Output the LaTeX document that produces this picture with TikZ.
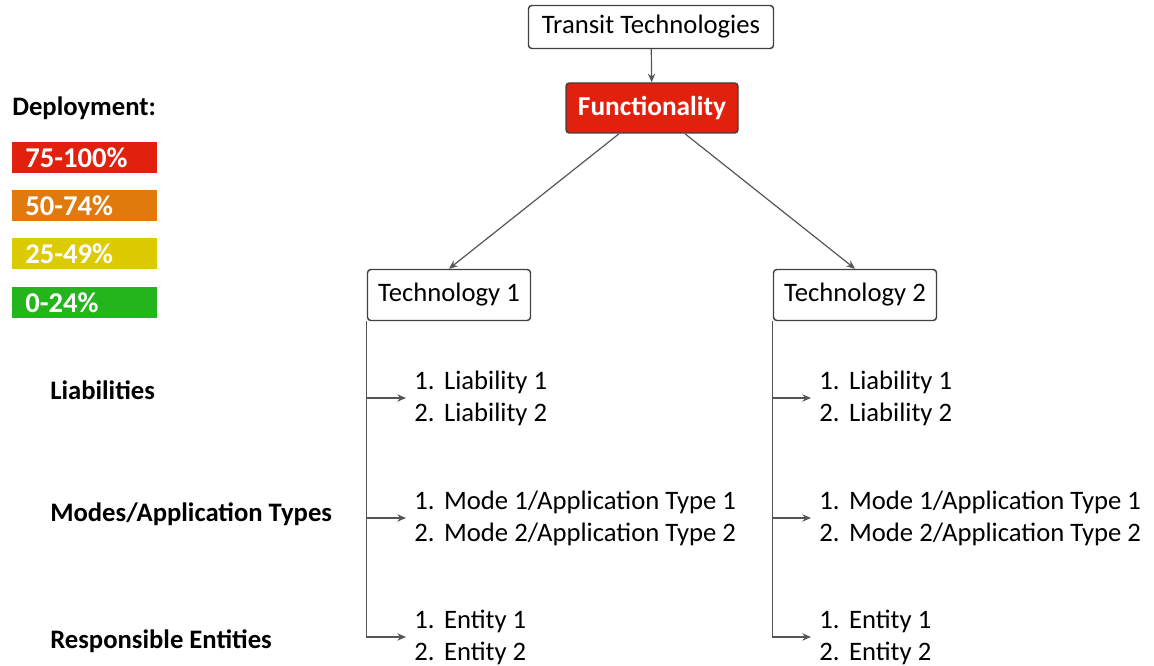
\documentclass[tikz,border=0pt]{standalone}
\usepackage{fontspec}
\setmainfont{Carlito}
\usetikzlibrary{arrows.meta}
\definecolor{deployred}{HTML}{E2200E}
\definecolor{deployorange}{HTML}{E07A0C}
\definecolor{deployyellow}{HTML}{DCCB00}
\definecolor{deploygreen}{HTML}{23B51B}
\definecolor{linegray}{HTML}{555555}
\newcommand{\itemgap}{\hspace{0.36em}}
\begin{document}
\begin{tikzpicture}
[x=0.75pt,y=-0.75pt,
  every node/.style={font=\fontsize{20}{24}\selectfont},
  boxdecorate/.style={shape=rectangle,rounded corners=2.5pt,draw=black!75,
    line width=1.1pt,inner sep=0pt},
  legenddecorate/.style={shape=rectangle,inner ysep=0pt,inner xsep=9.75pt,
    minimum height=23.25pt,text width=89.25pt,align=left,text=white,
    font=\fontsize{21.5}{24}\selectfont\bfseries},
  listdecorate/.style={anchor=west,align=left,inner ysep=0pt,inner xsep=6pt},
  labeldecorate/.style={anchor=west,inner sep=0pt,font=\fontsize{20}{24}\selectfont\bfseries},
  linedecorate/.style={draw=linegray,line width=0.9pt,
    -{Stealth[length=6.5pt,width=5.5pt]}}]
\useasboundingbox (0,0) rectangle (1154,666);
%% boxes of the tree
\node (transit) at (651,27) [boxdecorate,minimum width=183.75pt,minimum height=32.25pt]
  {Transit Technologies};
\node (func) at (652,108) [boxdecorate,fill=deployred,text=white,
  minimum width=129pt,minimum height=37.5pt,font=\fontsize{20.5}{24}\selectfont\bfseries]
  {Functionality};
\foreach \nodename/\x/\y/\num in {techa/449/295/1, techb/855/295/2}
{
  \node (\nodename) at (\x,\y) [boxdecorate,minimum width=122.25pt,minimum height=38.25pt]
    {Technology \num};
}
%% legend
\node (deploy) at (12,108) [labeldecorate] {Deployment:};
\foreach \nodename/\y/\col/\range in {leg1/157.5/deployred/75-100\%,
  leg2/205.5/deployorange/50-74\%, leg3/253.5/deployyellow/25-49\%,
  leg4/302.5/deploygreen/0-24\%}
{
  \node (\nodename) at (12,\y) [legenddecorate,anchor=west,fill=\col] {\range};
}
%% row labels
\foreach \nodename/\y/\text in {liab/390/Liabilities,
  modes/514/{Modes/Application Types}, resp/641/Responsible Entities}
{
  \node (\nodename) at (50,\y) [labeldecorate] {\text};
}
%% lists
\foreach \tech/\x in {a/406, b/811}
{
  \node (lia\tech) at (\x,398) [listdecorate]
    {1.\itemgap Liability 1\\2.\itemgap Liability 2};
  \node (mod\tech) at (\x,518) [listdecorate]
    {1.\itemgap Mode 1/Application Type 1\\2.\itemgap Mode 2/Application Type 2};
  \node (ent\tech) at (\x,637) [listdecorate]
    {1.\itemgap Entity 1\\2.\itemgap Entity 2};
}
%% edges or lines
\draw[linedecorate] (transit) -- (func);
\draw[linedecorate] (func.218) -- (techa.north);
\draw[linedecorate] (func.322) -- (techb.north);
\foreach \tech in {a, b}
{
  \draw[linedecorate] (tech\tech.south west) |- (ent\tech.west);
  \draw[linedecorate] (tech\tech.south west |- lia\tech.west) -- (lia\tech.west);
  \draw[linedecorate] (tech\tech.south west |- mod\tech.west) -- (mod\tech.west);
}
\end{tikzpicture}
\end{document}
